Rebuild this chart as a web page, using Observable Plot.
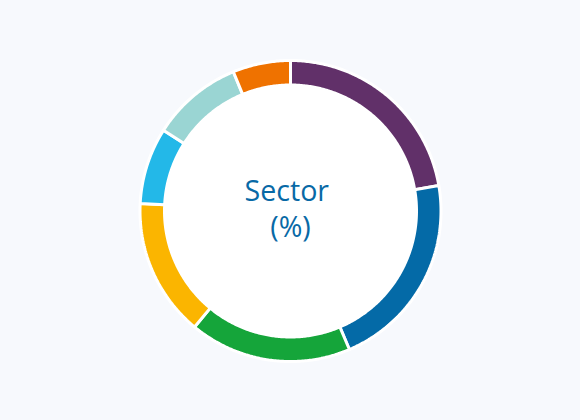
<!DOCTYPE html>
<html>
<head>
<meta charset="utf-8">
<script src="https://cdn.jsdelivr.net/npm/d3@7"></script>
<script src="https://cdn.jsdelivr.net/npm/@observablehq/plot@0.6"></script>
<style>
  html, body { margin: 0; padding: 0; background: #f7f9fd; }
  #chart { width: 580px; height: 420px; }
</style>
</head>
<body>
<div id="chart"></div>
<script>
// Data (shares in %, clockwise from 12 o'clock)
const categories = ["A", "B", "C", "D", "E", "F", "G"];
const values = [22.3, 21.3, 17.4, 14.8, 8.2, 9.8, 6.2];
const colors = ["#613069", "#046aa7", "#15a53a", "#fbb500", "#23b8e8", "#9ad5d3", "#ef7200"];
const centerLabel = "Sector\u00A0\n(%)";

const W = 580, H = 420;
const R = 150;           // outer radius in px
const rOuter = 150.5 / R, rInner = 126 / R;

const pie = d3.pie().sort(null).value(d => d.value);
const arcs = pie(categories.map((c, i) => ({category: c, value: values[i]})));

// Build slice polygons (in radius units) from the pie angles
const pts = [];
arcs.forEach(a => {
  const n = Math.max(8, Math.ceil((a.endAngle - a.startAngle) / 0.01));
  const ring = [];
  for (let k = 0; k <= n; k++) {
    const t = a.startAngle + (a.endAngle - a.startAngle) * k / n;
    ring.push([rOuter * Math.sin(t), rOuter * Math.cos(t)]);
  }
  for (let k = n; k >= 0; k--) {
    const t = a.startAngle + (a.endAngle - a.startAngle) * k / n;
    ring.push([rInner * Math.sin(t), rInner * Math.cos(t)]);
  }
  ring.push(ring[0]);
  ring.forEach(([x, y]) => pts.push({category: a.data.category, x, y}));
});

const xHalf = (W / 2) / R;
const cy = 210.5;
const chart = Plot.plot({
  width: W,
  height: H,
  margin: 0,
  style: {background: "#f7f9fd"},
  x: {domain: [-xHalf, xHalf], axis: null},
  y: {domain: [-(H - cy) / R, cy / R], axis: null},
  color: {domain: categories, range: colors},
  marks: [
    Plot.dot([{x: 0, y: 0}], {x: "x", y: "y", r: 151.5, fill: "white", stroke: "none"}),
    Plot.line(pts, {x: "x", y: "y", z: "category", fill: "category", stroke: "white", strokeWidth: 3, strokeLinejoin: "miter", curve: "linear"}),
    Plot.text([centerLabel], {x: 0, y: 0, text: d => d, fontSize: 28.6, lineHeight: 1.26, dy: -4, fill: "#0869a6", fontFamily: "Open Sans", fontWeight: 400})
  ]
});
document.getElementById("chart").append(chart);
</script>
</body>
</html>
